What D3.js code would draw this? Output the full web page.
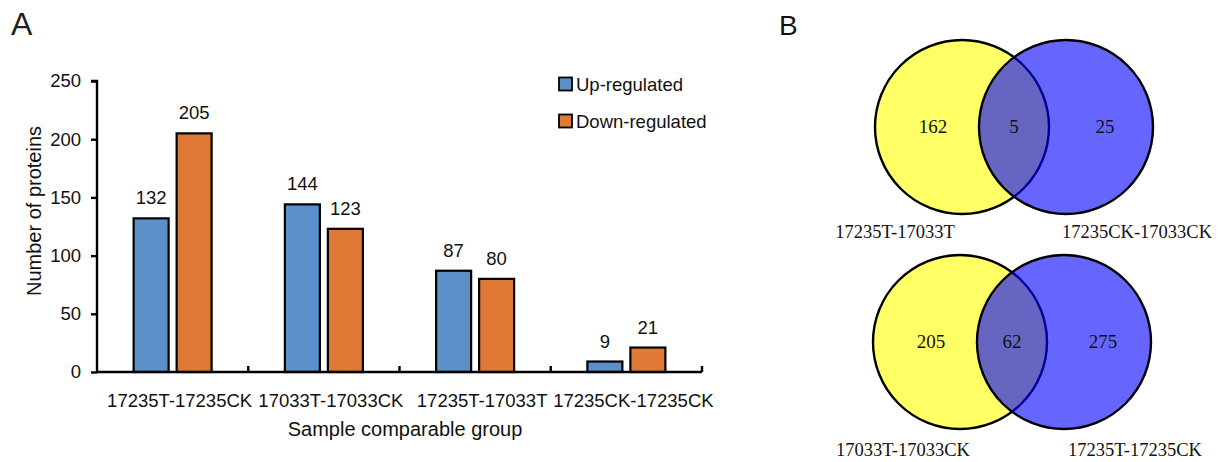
<!DOCTYPE html>
<html><head><meta charset="utf-8">
<script src="https://cdn.jsdelivr.net/npm/d3@7"></script>
<style>body{margin:0;background:#fff}svg{display:block}</style>
</head><body>
<svg id="c" width="1227" height="462"></svg>
<script>
// ---- Data ----
const categories = ["17235T-17235CK", "17033T-17033CK", "17235T-17033T", "17235CK-17235CK"];
const upRegulated = [132, 144, 87, 9];
const downRegulated = [205, 123, 80, 21];
const seriesNames = ["Up-regulated", "Down-regulated"];
const yTicks = [0, 50, 100, 150, 200, 250];
const vennTopSets = ["17235T-17033T", "17235CK-17033CK"];
const vennTopCounts = [162, 5, 25];
const vennBottomSets = ["17033T-17033CK", "17235T-17235CK"];
const vennBottomCounts = [205, 62, 275];

const svg = d3.select("#c");
const sans = "'Liberation Sans', Arial, sans-serif";
const serif = "'Liberation Serif', 'Times New Roman', serif";
const colors = ["#5B90C9", "#E07935"];

// ---- Panel A ----
const x0 = 97, x1 = 702, yBottom = 372, yTop = 81;
const x = d3.scaleBand().domain(categories).range([x0, x1]);
const y = d3.scaleLinear().domain([0, 250]).range([yBottom, yTop]);
const barW = 35, gap = 8;

svg.append("text").attr("x", 11).attr("y", 35).attr("font-family", sans)
  .attr("font-size", 32).attr("fill", "#231f20").text("A");

const series = [upRegulated, downRegulated];
series.forEach((vals, si) => {
  const g = svg.append("g");
  categories.forEach((c, i) => {
    const cx = x(c) + x.bandwidth() / 2;
    const bx = si === 0 ? cx - gap / 2 - barW : cx + gap / 2;
    g.append("rect").attr("x", bx).attr("y", y(vals[i]))
      .attr("width", barW).attr("height", y(0) - y(vals[i]))
      .attr("fill", colors[si]).attr("stroke", "#000").attr("stroke-width", 2.2);
    g.append("text").attr("x", bx + barW / 2).attr("y", y(vals[i]) - 14)
      .attr("text-anchor", "middle").attr("font-family", sans).attr("font-size", 18.5)
      .attr("fill", "#111").text(vals[i]);
  });
});

// y axis
const yAxis = d3.axisLeft(y).tickValues(yTicks).tickSize(6).tickPadding(10);
const gy = svg.append("g").attr("transform", `translate(${x0},0)`).call(yAxis);
gy.select(".domain").attr("stroke-width", 2.4).attr("d", `M-6,${yTop}H0V${yBottom}`);
gy.selectAll(".tick line").attr("stroke-width", 2.4);
gy.selectAll(".tick text").attr("font-family", sans).attr("font-size", 18.5).attr("fill", "#111");

// x axis
const xAxis = d3.axisBottom(x).tickSize(0).tickPadding(22);
const gx = svg.append("g").attr("transform", `translate(0,${yBottom})`).call(xAxis);
gx.select(".domain").attr("stroke-width", 2.4).attr("d", `M${x0},0H${x1}`);
gx.selectAll(".tick text").attr("font-family", sans).attr("font-size", 18.5)
  .attr("fill", "#111").attr("dx", 7);
// boundary ticks (inward)
const bounds = categories.map(c => x(c) + x.bandwidth());
gx.selectAll("line.bt").data(bounds).join("line").attr("class", "bt")
  .attr("x1", d => d).attr("x2", d => d).attr("y1", 0).attr("y2", -6)
  .attr("stroke", "#000").attr("stroke-width", 2.4);

svg.append("text").attr("x", 405).attr("y", 436).attr("text-anchor", "middle")
  .attr("font-family", sans).attr("font-size", 20).attr("fill", "#111")
  .text("Sample comparable group");
svg.append("text").attr("transform", "translate(41,211) rotate(-90)")
  .attr("text-anchor", "middle").attr("font-family", sans).attr("font-size", 20)
  .attr("fill", "#111").text("Number of proteins");

// legend
const lg = svg.append("g");
seriesNames.forEach((n, i) => {
  const ly = 84 + i * 37;
  lg.append("rect").attr("x", 559).attr("y", ly - 6.5).attr("width", 13).attr("height", 13)
    .attr("fill", colors[i]).attr("stroke", "#000").attr("stroke-width", 1.8);
  lg.append("text").attr("x", 576).attr("y", ly + 6.5).attr("font-family", sans)
    .attr("font-size", 18.5).attr("fill", "#111").text(n);
});

// ---- Panel B ----
svg.append("text").attr("x", 779).attr("y", 35).attr("font-family", sans)
  .attr("font-size", 28).attr("fill", "#111").text("B");

function venn(cxL, cxR, cy, r, counts, sets, labelY, labelX) {
  const g = svg.append("g");
  g.append("circle").attr("cx", cxL).attr("cy", cy).attr("r", r)
    .attr("fill", "rgb(255,255,102)").attr("stroke", "#000").attr("stroke-width", 2.4);
  g.append("circle").attr("cx", cxR).attr("cy", cy).attr("r", r)
    .attr("fill", "rgba(0,0,255,0.6)").attr("stroke", "none");
  g.append("circle").attr("cx", cxR).attr("cy", cy).attr("r", r)
    .attr("fill", "none").attr("stroke", "#000").attr("stroke-width", 2.4);
  const mid = (cxL + cxR) / 2;
  const xs = [cxL - 29, mid, cxR + 39];
  counts.forEach((v, i) => {
    g.append("text").attr("x", xs[i]).attr("y", cy + 6).attr("text-anchor", "middle")
      .attr("font-family", serif).attr("font-size", 19).attr("fill", "#111").text(v);
  });
  sets.forEach((s, i) => {
    g.append("text").attr("x", labelX[i]).attr("y", labelY).attr("text-anchor", "middle")
      .attr("font-family", serif).attr("font-size", 18.5).attr("fill", "#111").text(s);
  });
}
venn(962, 1066, 127, 87, vennTopCounts, vennTopSets, 238, [895, 1137]);
venn(960, 1064, 342, 87, vennBottomCounts, vennBottomSets, 456, [903, 1135]);
</script>
</body></html>
